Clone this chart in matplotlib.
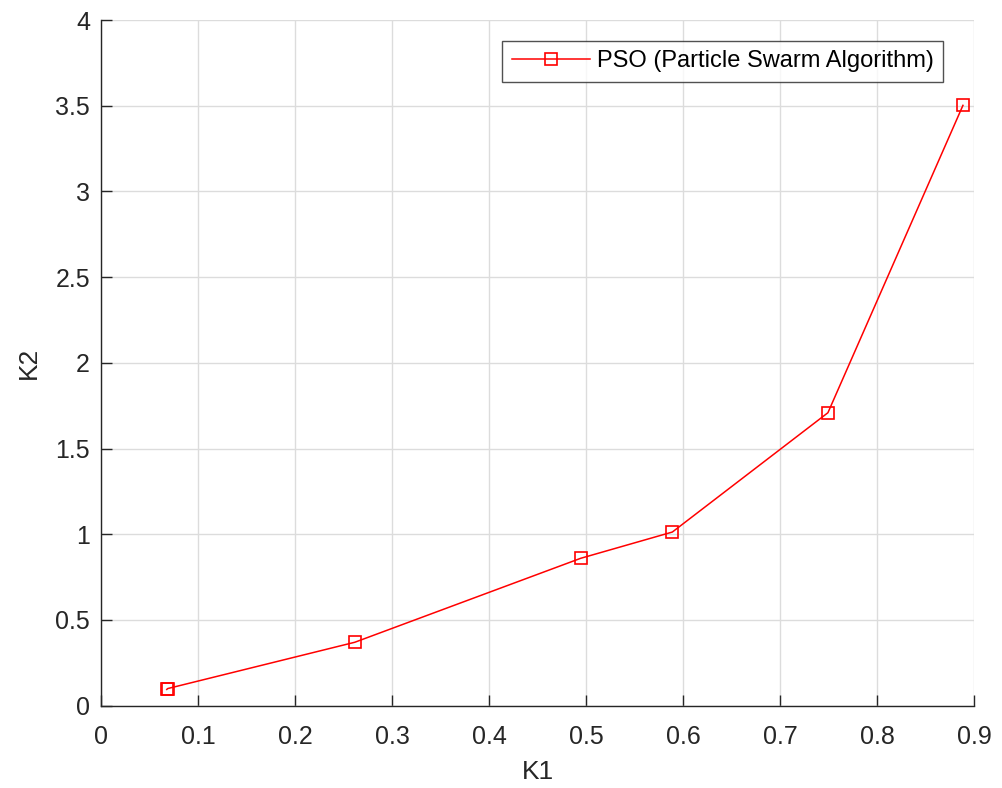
import matplotlib.pyplot as plt

# K1 / K2 values
k1 = [0.0678, 0.0688, 0.2616, 0.4946, 0.589, 0.7494, 0.8886]
k2 = [0.095, 0.100, 0.370, 0.860, 1.013, 1.709, 3.502]
series_label = 'PSO (Particle Swarm Algorithm)'
x_ticks = [0, 0.1, 0.2, 0.3, 0.4, 0.5, 0.6, 0.7, 0.8, 0.9]
y_ticks = [0, 0.5, 1, 1.5, 2, 2.5, 3, 3.5, 4]

plt.rcParams['font.family'] = ['Liberation Sans', 'DejaVu Sans']
dark = '#262626'

fig = plt.figure(figsize=(10.02, 7.88), dpi=100)
ax = fig.add_axes([101 / 1002, 1 - 705.7 / 788, 873 / 1002, 685.7 / 788])

ax.plot(k1, k2, color='#ff0000', linewidth=1.1, marker='s', markersize=9,
        markerfacecolor='none', markeredgecolor='#ff0000', markeredgewidth=1.2,
        label=series_label)

ax.set_xlim(0, 0.9)
ax.set_ylim(0, 4)
ax.set_xticks(x_ticks)
ax.set_yticks(y_ticks)
ax.set_xticklabels(['%g' % t for t in x_ticks])
ax.set_yticklabels(['%g' % t for t in y_ticks])

ax.grid(True, color='#dcdcdc', linewidth=1.0)
ax.set_axisbelow(True)

for side in ['top', 'right']:
    ax.spines[side].set_visible(False)
for side in ['left', 'bottom']:
    ax.spines[side].set_color(dark)
    ax.spines[side].set_linewidth(1.0)

ax.tick_params(direction='in', length=8, width=1.0, colors=dark, labelsize=18)
ax.tick_params(axis='x', pad=14)
ax.tick_params(axis='y', pad=8)

ax.set_xlabel('K1', fontsize=19, color=dark, labelpad=8)
ax.set_ylabel('K2', fontsize=19, color=dark, labelpad=10)

# legend box sits at about x 502-943, y 41-80 px in the reference
leg = ax.legend(loc='upper right', bbox_to_anchor=(943 / 1002, 1 - 40.7 / 788),
                bbox_transform=fig.transFigure, borderaxespad=0,
                fontsize=17, frameon=True, fancybox=False,
                handlelength=3.3, handletextpad=0.3, borderpad=0.4)
leg.get_frame().set_edgecolor(dark)
leg.get_frame().set_linewidth(1.0)
for t in leg.get_texts():
    t.set_color('#000000')

fig.savefig('out.png', dpi=100)
